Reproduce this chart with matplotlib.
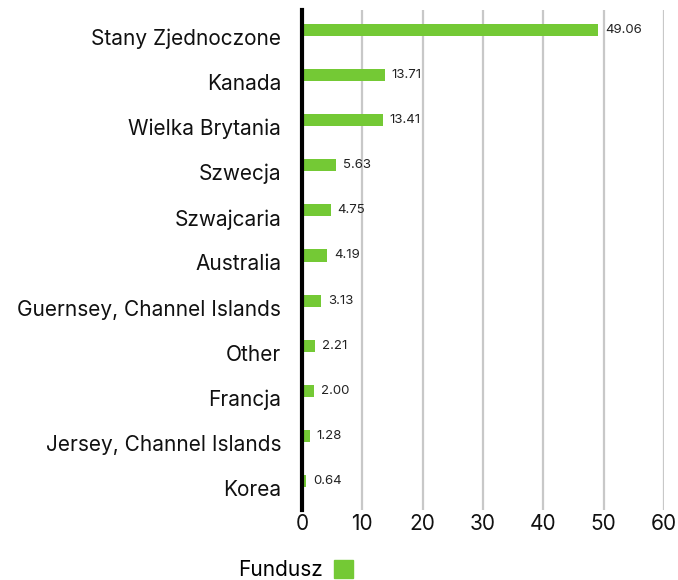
import matplotlib
matplotlib.use("Agg")
import matplotlib.pyplot as plt
from matplotlib.patches import Patch
from matplotlib.transforms import ScaledTranslation

plt.rcParams['font.family'] = ['Inter', 'DejaVu Sans']

countries = ["Stany Zjednoczone", "Kanada", "Wielka Brytania", "Szwecja", "Szwajcaria",
             "Australia", "Guernsey, Channel Islands", "Other", "Francja",
             "Jersey, Channel Islands", "Korea"]
fund = [49.06, 13.71, 13.41, 5.63, 4.75, 4.19, 3.13, 2.21, 2.00, 1.28, 0.64]
xticks = [0, 10, 20, 30, 40, 50, 60]
green = "#74c935"

fig = plt.figure(figsize=(6.78, 5.8), dpi=100)
ax = fig.add_axes([302 / 678, 1 - 510 / 580, 362 / 678, 500 / 580])

pos = list(range(len(countries)))
ax.barh(pos, fund, height=0.27, color=green, zorder=3)
for p, v in zip(pos, fund):
    ax.annotate(f"{v:.2f}", (v, p), xytext=(5, 0), textcoords="offset points",
                va="center", ha="left", fontsize=9.5, color="#222222")

ax.set_xlim(0, 60)
ax.set_ylim(10.64, -0.44)
ax.set_yticks(pos)
ax.set_yticklabels(countries, fontsize=15)
ax.set_xticks(xticks)
ax.set_xticklabels([str(t) for t in xticks], fontsize=15)
ax.tick_params(axis="both", length=0, colors="#111111")
ax.tick_params(axis="y", pad=15)
ax.tick_params(axis="x", pad=3)

# category labels sit a little below the bars
shift = ScaledTranslation(0, -7 / 100, fig.dpi_scale_trans)
for lab in ax.get_yticklabels():
    lab.set_transform(lab.get_transform() + shift)

for s in ["top", "right", "bottom"]:
    ax.spines[s].set_visible(False)
ax.spines["left"].set_linewidth(3)
ax.spines["left"].set_color("black")
ax.spines["left"].set_zorder(5)
ax.grid(axis="x", color="#c8c8c8", linewidth=1.6, zorder=0)
ax.grid(axis="y", visible=False)
ax.xaxis.get_gridlines()[0].set_visible(False)

leg = fig.legend(handles=[Patch(color=green, label="Fundusz")], loc="center",
                 bbox_to_anchor=(296 / 678, 1 - 570 / 580), frameon=False,
                 markerfirst=False, fontsize=15, handlelength=0.95, handleheight=1.0,
                 handletextpad=0.5, borderpad=0.2)

fig.savefig("out.png", dpi=100)
